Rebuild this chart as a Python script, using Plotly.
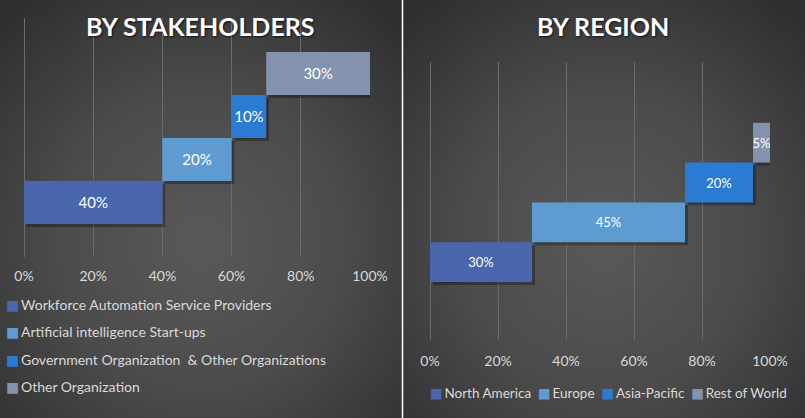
import base64
import plotly.graph_objects as go

W, H = 805, 418

# ---------------- data ----------------
stake_names = ["Workforce Automation Service Providers",
               "Artificial intelligence Start-ups",
               "Government Organization  & Other Organizations",
               "Other Organization"]
stake_values = [40, 20, 10, 30]

region_names = ["North America", "Europe", "Asia-Pacific", "Rest of World"]
region_values = [30, 45, 20, 5]

tick_vals = [0, 20, 40, 60, 80, 100]
tick_text = ["0%", "20%", "40%", "60%", "80%", "100%"]

colors = ["#4a66ac", "#5e9bd1", "#2b7bd3", "#8393ad"]

FONT = "Lato, 'Open Sans', sans-serif"
GRID = "#6b6b6b"
TXT = "#d9d9d9"


def px_x(p):
    return p / W


def px_y(p):
    return 1 - p / H


def cumulative(vals):
    out, s = [], 0
    for v in vals:
        out.append(s)
        s += v
    return out


fig = go.Figure()

panels = [
    dict(names=stake_names, values=stake_values, xa="x", ya="y", size=15,
         sdx=0.8, sdy=0.07),
    dict(names=region_names, values=region_values, xa="x2", ya="y2", size=13,
         sdx=0.9, sdy=0.075),
]

for p in panels:
    bases = cumulative(p["values"])
    rows = list(range(len(p["values"])))
    # soft drop shadow underneath the bars
    fig.add_trace(go.Bar(
        y=rows, x=p["values"], base=[b + p["sdx"] for b in bases],
        orientation="h", width=1, offset=-0.5 - p["sdy"],
        marker=dict(color="rgba(0,0,0,0.30)", line_width=0),
        hoverinfo="skip", showlegend=False,
        xaxis=p["xa"], yaxis=p["ya"]))
    for i, (n, v, b) in enumerate(zip(p["names"], p["values"], bases)):
        fig.add_trace(go.Bar(
            name=n, y=[i], x=[v], base=[b], orientation="h", width=1,
            marker=dict(color=colors[i], line_width=0),
            text=[f"{v}%"], textposition="inside", insidetextanchor="middle",
            textangle=0, constraintext="none",
            textfont=dict(color="white", size=p["size"], family=FONT),
            hovertemplate=n + ": %{x}%<extra></extra>",
            showlegend=False, xaxis=p["xa"], yaxis=p["ya"]))


def grad_uri(w, h):
    svg = (f'<svg xmlns="http://www.w3.org/2000/svg" width="{w}" height="{h}">'
           '<defs><radialGradient id="g" cx="50%" cy="58%" r="72%">'
           '<stop offset="0" stop-color="#595959"/>'
           '<stop offset="0.5" stop-color="#4b4b4b"/>'
           '<stop offset="1" stop-color="#2f2f2f"/>'
           '</radialGradient></defs>'
           f'<rect width="{w}" height="{h}" fill="url(#g)"/></svg>')
    return "data:image/svg+xml;base64," + base64.b64encode(svg.encode()).decode()


axis_common = dict(range=[0, 100], tickvals=tick_vals, ticktext=tick_text,
                   showgrid=True, gridcolor=GRID, gridwidth=1,
                   zeroline=True, zerolinecolor=GRID, zerolinewidth=1,
                   showline=False, ticks="outside", tickcolor="rgba(0,0,0,0)",
                   tickfont=dict(color=TXT, size=14, family=FONT),
                   fixedrange=True, automargin=False)
yaxis_common = dict(showgrid=False, zeroline=False, showticklabels=False,
                    showline=False, ticks="", fixedrange=True, automargin=False)

annotations = [
    dict(text="<b>BY STAKEHOLDERS</b>", x=px_x(200), y=px_y(26), xref="paper",
         yref="paper", showarrow=False, xanchor="center", yanchor="middle",
         font=dict(color="white", size=25, family=FONT,
                   shadow="1px 1px 2px rgba(0,0,0,0.7)")),
    dict(text="<b>BY REGION</b>", x=px_x(603), y=px_y(26), xref="paper",
         yref="paper", showarrow=False, xanchor="center", yanchor="middle",
         font=dict(color="white", size=25, family=FONT,
                   shadow="1px 1px 2px rgba(0,0,0,0.7)")),
]

SQ = '<span style="color:{c};font-family:\'DejaVu Sans\'">\u25A0</span>'

# left legend (vertical)
for i, n in enumerate(stake_names):
    annotations.append(dict(
        text=SQ.format(c=colors[i]) + "\u2009" + n.replace("  ", "\u00a0\u00a0"),
        x=px_x(4), y=px_y(304.5 + 27.3 * i), xref="paper", yref="paper",
        showarrow=False, xanchor="left", yanchor="middle", align="left",
        font=dict(color=TXT, size=14, family=FONT)))

# right legend (horizontal)
parts = [SQ.format(c=colors[i]) + "\u2009" + n for i, n in enumerate(region_names)]
annotations.append(dict(
    text="\u00a0\u00a0".join(parts), x=px_x(428), y=px_y(393),
    xref="paper", yref="paper", showarrow=False, xanchor="left",
    yanchor="middle", font=dict(color=TXT, size=13.5, family=FONT)))

fig.update_layout(
    width=W, height=H, autosize=False,
    margin=dict(l=0, r=0, t=0, b=0, pad=0, autoexpand=False),
    paper_bgcolor="#3a3a3a", plot_bgcolor="rgba(0,0,0,0)",
    barmode="overlay", showlegend=False,
    xaxis=dict(domain=[px_x(24), px_x(370)], anchor="y", ticklen=6, **axis_common),
    yaxis=dict(domain=[px_y(257), px_y(18)], anchor="x", range=[-1.27, 4.29],
               **yaxis_common),
    xaxis2=dict(domain=[px_x(430), px_x(770)], anchor="y2", ticklen=8, **axis_common),
    yaxis2=dict(domain=[px_y(340), px_y(62)], anchor="x2", range=[-1.96, 5.03],
                **yaxis_common),
    images=[
        dict(source=grad_uri(402, 418), xref="paper", yref="paper", x=0, y=1,
             sizex=0.5, sizey=1, xanchor="left", yanchor="top",
             sizing="stretch", layer="below"),
        dict(source=grad_uri(403, 418), xref="paper", yref="paper", x=0.5, y=1,
             sizex=0.5, sizey=1, xanchor="left", yanchor="top",
             sizing="stretch", layer="below"),
    ],
    shapes=[dict(type="line", xref="paper", yref="paper", x0=0.5, x1=0.5,
                 y0=0, y1=1, line=dict(color="white", width=1.5))],
    annotations=annotations,
)

fig.write_html("out.html")
